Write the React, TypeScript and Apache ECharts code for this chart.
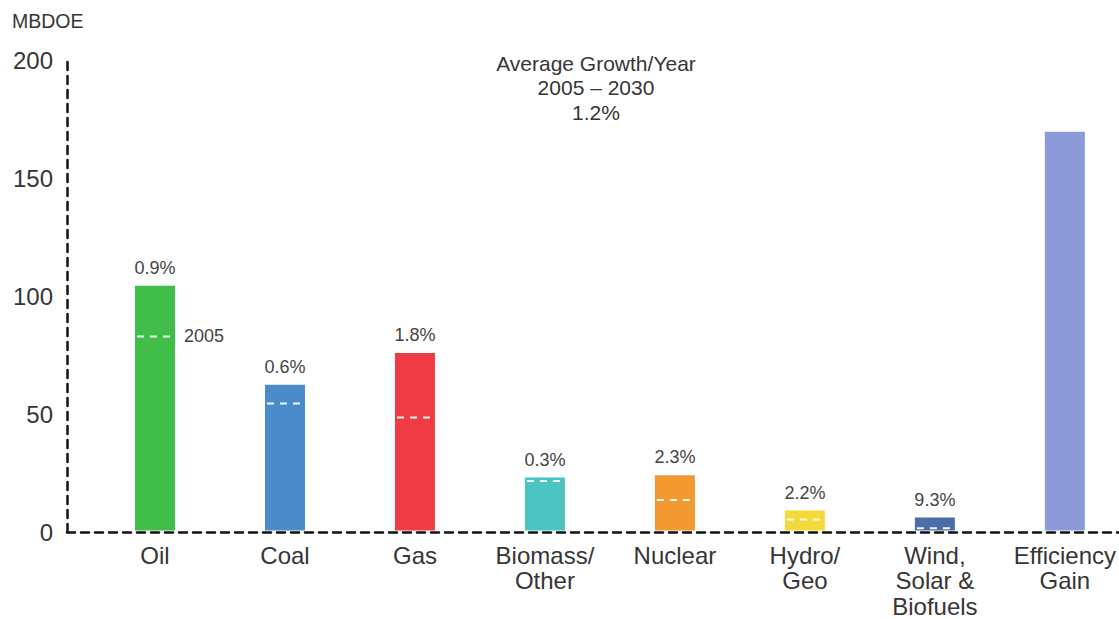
import React, { useEffect, useRef } from "react";
import * as echarts from "echarts";

const categories = ["Oil", "Coal", "Gas", "Biomass/\nOther", "Nuclear", "Hydro/\nGeo", "Wind,\nSolar &\nBiofuels", "Efficiency\nGain"];
const values2030 = [104, 62, 75.5, 22.5, 23.5, 8.5, 5.5, 169.5];
const values2005 = [82.5, 54, 48, 21, 13, 4.7, 1, null];
const growthLabels = ["0.9%", "0.6%", "1.8%", "0.3%", "2.3%", "2.2%", "9.3%", ""];
const barColors = ["#41bd4a", "#4a8bc9", "#f03b46", "#4cc4c4", "#f29a31", "#f3da3b", "#4a6fa6", "#8c9bd8"];
const yTicks = [0, 50, 100, 150, 200];

const FONT = "'Liberation Sans', Arial, Helvetica, sans-serif";
const TEXT = "#363636";
const BAR_W = 40;

export default function App() {
  const ref = useRef<HTMLDivElement>(null);
  useEffect(() => {
    document.body.style.margin = "0";
    const chart = echarts.init(ref.current!, null, { renderer: "svg" });
    const top = 60;
    const bottom = 87;
    chart.setOption({
      animation: false,
      backgroundColor: "#ffffff",
      textStyle: { fontFamily: FONT },
      grid: [
        { left: 67, right: 0, top, bottom },
        { left: 155, right: 50, top, bottom },
      ],
      xAxis: [
        {
          type: "value",
          gridIndex: 0,
          min: 0,
          max: 1,
          z: 5,
          axisLine: { show: true, lineStyle: { color: "#111", width: 2.5, type: [8, 6] } },
          axisTick: { show: false },
          axisLabel: { show: false },
          splitLine: { show: false },
        },
        {
          type: "category",
          gridIndex: 1,
          data: categories,
          boundaryGap: false,
          axisLine: { show: false },
          axisTick: { show: false },
          splitLine: { show: false },
          axisLabel: {
            margin: 12,
            fontSize: 24,
            lineHeight: 25.5,
            color: TEXT,
            fontFamily: FONT,
            interval: 0,
          },
        },
      ],
      yAxis: [
        {
          type: "value",
          gridIndex: 0,
          min: yTicks[0],
          max: yTicks[yTicks.length - 1],
          interval: 50,
          axisLine: { show: true, lineStyle: { color: "#111", width: 2.5, type: [8, 6] } },
          axisTick: { show: false },
          splitLine: { show: false },
          axisLabel: { margin: 14, fontSize: 24, color: TEXT, fontFamily: FONT },
        },
        {
          type: "value",
          gridIndex: 1,
          min: 0,
          max: 200,
          interval: 50,
          show: false,
        },
      ],
      series: [
        {
          type: "bar",
          xAxisIndex: 1,
          yAxisIndex: 1,
          barWidth: BAR_W,
          clip: false,
          z: 2,
          data: values2030.map((v, i) => ({ value: v, itemStyle: { color: barColors[i] } })),
          label: {
            show: true,
            position: "top",
            distance: 9,
            fontSize: 18,
            color: "#444",
            fontFamily: FONT,
            formatter: (p: any) => growthLabels[p.dataIndex],
          },
        },
        {
          type: "custom",
          xAxisIndex: 1,
          yAxisIndex: 1,
          z: 3,
          clip: false,
          data: values2005.map((v, i) => [i, v]).filter((d) => d[1] !== null),
          renderItem: (params: any, api: any) => {
            const pt = api.coord([api.value(0), api.value(1)]);
            const half = BAR_W / 2;
            const children: any[] = [
              {
                type: "line",
                shape: { x1: pt[0] - half + 2, y1: pt[1], x2: pt[0] + half - 1, y2: pt[1] },
                style: { stroke: "#f6f6f6", lineWidth: 2, lineDash: [7, 6] },
              },
            ];
            if (params.dataIndex === 0) {
              children.push({
                type: "text",
                x: pt[0] + half + 9,
                y: pt[1],
                style: {
                  text: "2005",
                  fill: "#444",
                  font: `18px ${FONT}`,
                  align: "left",
                  verticalAlign: "middle",
                },
              });
            }
            return { type: "group", children };
          },
        },
      ],
      graphic: [
        {
          type: "text",
          x: 12,
          y: 11,
          style: { text: "MBDOE", fill: TEXT, font: `19.5px ${FONT}` },
        },
        {
          type: "text",
          x: 596,
          y: 51,
          style: {
            text: "Average Growth/Year\n2005 – 2030\n1.2%",
            fill: TEXT,
            font: `21px ${FONT}`,
            lineHeight: 24.5,
            align: "center",
          },
        },
      ],
    });
    return () => chart.dispose();
  }, []);
  return <div ref={ref} style={{ width: 1119, height: 619 }} />;
}
